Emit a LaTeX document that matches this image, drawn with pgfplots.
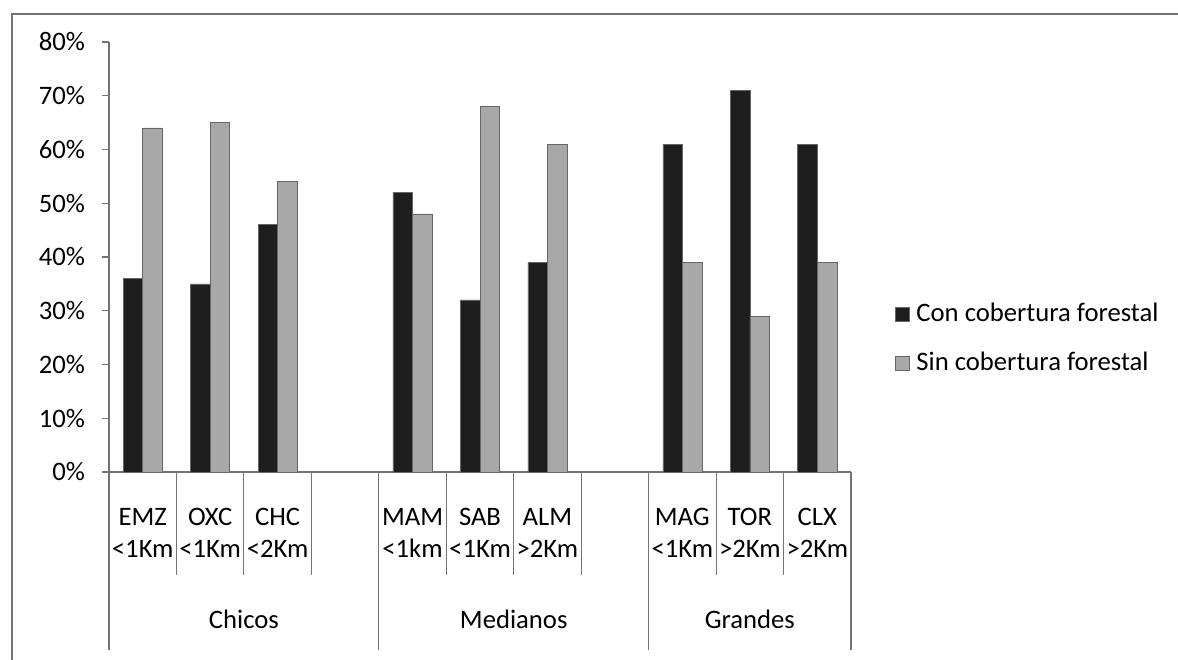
\documentclass[border=0pt]{standalone}
\usepackage{fontspec}
\setmainfont{Carlito}
\usepackage{pgfplots}
\usepackage{pgfplotstable}
\pgfplotsset{compat=1.18}

% Share of each site with and without forest cover (percent)
\pgfplotstableread{
x  con sin
0  36  64
1  35  65
2  46  54
4  52  48
5  32  68
6  39  61
8  61  39
9  71  29
10 61  39
}\datos

\colorlet{linea}{black!55}
\definecolor{conbosque}{HTML}{1E1E1E}
\definecolor{sinbosque}{HTML}{A8A8A8}

\begin{document}
\fontsize{20}{24.5}\selectfont
\begin{tikzpicture}[font=\fontsize{20}{24.5}\selectfont]
\useasboundingbox (0,0) rectangle (883.5pt,495pt);
% outer chart frame
\draw[linea, line width=0.9pt] (9pt,-5pt) -- (9pt,484.5pt) -- (890pt,484.5pt);
\begin{axis}[
  at={(81.75pt,141pt)}, anchor=south west,
  scale only axis, width=556.5pt, height=322.5pt,
  xmin=-0.5, xmax=10.5, ymin=0, ymax=80,
  axis x line*=bottom, axis y line*=left,
  axis line style={-, linea, line width=0.8pt},
  ybar, bar width=0.29,
  xtick={0,...,10},
  xticklabels={{EMZ\\<1Km},{OXC\\<1Km},{CHC\\<2Km},{},{MAM\\<1km},{SAB\\<1Km},{ALM\\>2Km},{},{MAG\\<1Km},{TOR\\>2Km},{CLX\\>2Km}},
  xtick style={draw=none},
  xticklabel style={align=center, anchor=center, yshift=-40.5pt},
  ytick={0,10,...,80},
  yticklabels={0\%,10\%,20\%,30\%,40\%,50\%,60\%,70\%,80\%},
  ytick style={linea, line width=0.8pt},
  tick align=outside, major tick length=5.25pt,
  yticklabel style={xshift=-6pt},
  clip=false,
  legend style={at={(1.0593,0.3093)}, anchor=west, draw=none, fill=none,
    inner sep=0pt, row sep=20pt, column sep=5pt, nodes={inner sep=0pt}},
  legend cell align=left,
  legend image code/.code={\fill[#1] (0pt,-5.25pt) rectangle (10.5pt,5.25pt);},
]
\addplot[bar shift=-0.145, draw=black!60, line width=0.4pt, fill=conbosque]
  table[x=x, y=con]{\datos};
\addplot[bar shift=0.145, draw=black!60, line width=0.4pt, fill=sinbosque]
  table[x=x, y=sin]{\datos};
\legend{Con cobertura forestal, Sin cobertura forestal}

% category separators below the axis
\pgfplotsinvokeforeach{0.5,1.5,2.5,4.5,5.5,6.5,8.5,9.5}{
  \draw[linea, line width=0.8pt] (axis cs:#1,0) -- (axis cs:#1,-19.2);
}
% group separators
\pgfplotsinvokeforeach{-0.5,3.5,7.5,10.5}{
  \draw[linea, line width=0.8pt] (axis cs:#1,0) -- (axis cs:#1,-33.1);
}
\node at (axis cs:1.5,-27.5) {Chicos};
\node at (axis cs:5.5,-27.5) {Medianos};
\node at (axis cs:9,-27.5) {Grandes};
\end{axis}
\end{tikzpicture}
\end{document}
